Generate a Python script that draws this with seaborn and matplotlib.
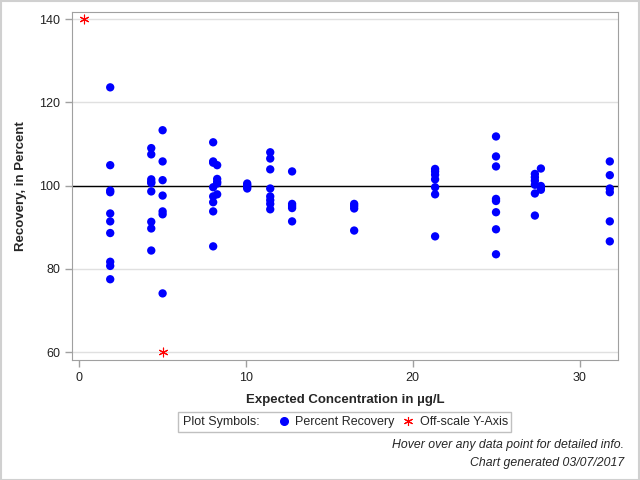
import numpy as np
import pandas as pd
import seaborn as sns
import matplotlib.pyplot as plt
from matplotlib.lines import Line2D
from matplotlib.patches import Rectangle

# expected concentration (x) and percent recovery (y)
conc_1_9 = [1.87] * 10
rec_1_9 = [123.6, 104.9, 98.8, 98.4, 93.3, 91.4, 88.6, 81.7, 80.7, 77.5]
conc_4_3 = [4.33] * 9
rec_4_3 = [109.0, 107.5, 101.5, 100.9, 100.6, 98.6, 91.3, 89.7, 84.4]
conc_5_0 = [5.01] * 7
rec_5_0 = [113.3, 105.8, 101.3, 97.6, 93.8, 93.1, 74.1]
conc_8_0 = [8.04] * 8
rec_8_0 = [110.4, 105.8, 105.5, 99.6, 97.4, 96.0, 93.8, 85.4]
conc_8_3 = [8.28] * 5
rec_8_3 = [104.9, 101.6, 100.9, 100.5, 97.9]
conc_10_1 = [10.08] * 4
rec_10_1 = [100.5, 100.1, 99.7, 99.3]
conc_11_5 = [11.46] * 8
rec_11_5 = [108.0, 106.5, 103.9, 99.3, 97.4, 96.5, 95.6, 94.3]
conc_12_8 = [12.77] * 5
rec_12_8 = [103.4, 95.6, 95.1, 94.6, 91.4]
conc_16_5 = [16.49] * 4
rec_16_5 = [95.6, 95.1, 94.5, 89.2]
conc_21_3 = [21.34] * 7
rec_21_3 = [104.0, 103.4, 102.6, 101.5, 99.6, 97.9, 87.8]
conc_25_0 = [24.99] * 8
rec_25_0 = [111.8, 107.0, 104.6, 96.8, 96.3, 93.6, 89.5, 83.5]
conc_27_3 = [27.32] * 6
rec_27_3 = [102.8, 102.0, 101.2, 100.2, 98.1, 92.8]
conc_27_7 = [27.68] * 4
rec_27_7 = [104.1, 99.9, 99.4, 99.0]
conc_31_8 = [31.81] * 6
rec_31_8 = [105.8, 102.5, 99.3, 98.4, 91.4, 86.6]

# points off the y scale, drawn at the axis limits
off_conc = [0.3, 5.01]
off_rec = [140, 60]

x_ticks = [0, 10, 20, 30]
y_ticks = [60, 80, 100, 120, 140]

conc = (conc_1_9 + conc_4_3 + conc_5_0 + conc_8_0 + conc_8_3 + conc_10_1 + conc_11_5
        + conc_12_8 + conc_16_5 + conc_21_3 + conc_25_0 + conc_27_3 + conc_27_7 + conc_31_8)
rec = (rec_1_9 + rec_4_3 + rec_5_0 + rec_8_0 + rec_8_3 + rec_10_1 + rec_11_5
       + rec_12_8 + rec_16_5 + rec_21_3 + rec_25_0 + rec_27_3 + rec_27_7 + rec_31_8)
df = pd.DataFrame({"conc": conc, "rec": rec})
df_off = pd.DataFrame({"conc": off_conc, "rec": off_rec})

sns.set_style("white")
plt.rcParams['font.family'] = ['Liberation Sans', 'DejaVu Sans']

fig = plt.figure(figsize=(6.4, 4.8), dpi=100)
ax = fig.add_axes([0.1125, 0.25, 0.8531, 0.725])

ax.axhline(100, color="black", lw=1, zorder=1)
sns.scatterplot(data=df, x="conc", y="rec", color="#0000ff", s=36, edgecolor="none",
                ax=ax, zorder=3)
sns.scatterplot(data=df_off, x="conc", y="rec", color="#ff0000", marker=(6, 2, 0),
                s=40, linewidth=0.8, ax=ax, zorder=3)

ax.set_xlim(-0.42, 32.3)
ax.set_ylim(58.1, 141.7)
ax.set_xticks(x_ticks)
ax.set_yticks(y_ticks)
ax.grid(axis="y", color="#e0e0e0", lw=1)
ax.set_axisbelow(True)
for sp in ax.spines.values():
    sp.set_color("#a0a0a0")
ax.tick_params(axis="both", direction="out", length=5, width=1, color="#a0a0a0",
               labelsize=9, labelcolor="#222222", bottom=True, left=True)
ax.set_xlabel("Expected Concentration in µg/L", fontsize=9.5, fontweight="bold", labelpad=7)
ax.set_ylabel("Recovery, in Percent", fontsize=9.5, fontweight="bold", labelpad=9)

# legend: framed box with a "Plot Symbols:" label and two symbol entries
fig.patches.append(Rectangle((178 / 640, 1 - 432 / 480), 333 / 640, 20 / 480,
                             transform=fig.transFigure, fill=False,
                             edgecolor="#c0c0c0", lw=1))
fig.text(183 / 640, 1 - 422 / 480, "Plot Symbols:", ha="left", va="center", fontsize=9)
handles = [
    Line2D([], [], linestyle="none", marker="o", color="#0000ff", markersize=5.5,
           label="Percent Recovery"),
    Line2D([], [], linestyle="none", marker=(6, 2, 0), color="#ff0000", markersize=6.5,
           markeredgewidth=0.8, label="Off-scale Y-Axis"),
]
fig.legend(handles=handles, loc="center left", bbox_to_anchor=(279 / 640, 1 - 422 / 480),
           ncol=2, frameon=False, fontsize=9, handlelength=0.8, handletextpad=0.5,
           columnspacing=0.7, borderpad=0, borderaxespad=0)

fig.text(0.975, 0.072, "Hover over any data point for detailed info.", ha="right",
         va="center", fontsize=8.8, style="italic")
fig.text(0.975, 0.035, "Chart generated 03/07/2017", ha="right", va="center",
         fontsize=8.8, style="italic")

fig.patches.append(Rectangle((0.001, 0.001), 0.997, 0.997, transform=fig.transFigure,
                             fill=False, edgecolor="#d0d0d0", lw=1.5))

fig.savefig("out.png", dpi=100)
